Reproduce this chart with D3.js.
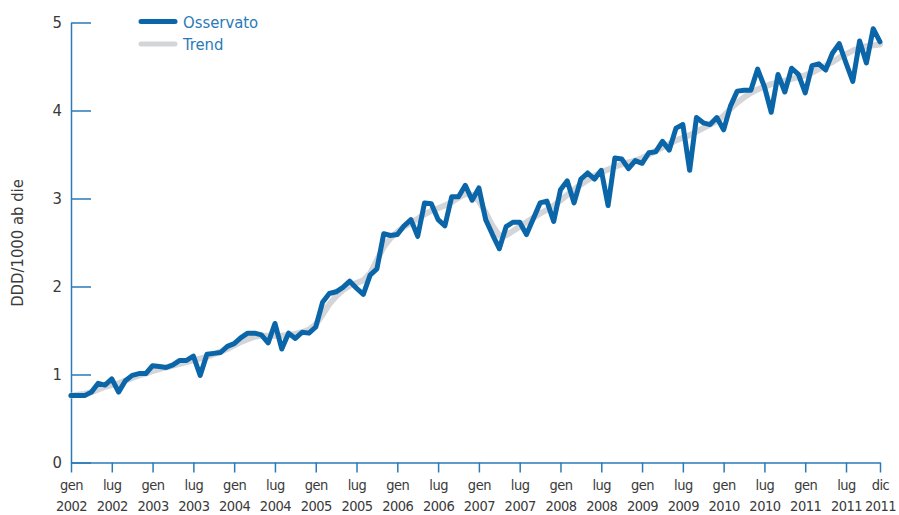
<!DOCTYPE html>
<html>
<head>
<meta charset="utf-8">
<script src="https://cdn.jsdelivr.net/npm/d3@7"></script>
<style>
    body { margin: 0; background: #fff; }
    svg text { font-family: "Liberation Sans Narrow", "DejaVu Sans Condensed", "Open Sans", sans-serif; }
</style>
</head>
<body>
<div id="viz_div"></div>
<script>
// DATA: monthly values, gen 2002 .. dic 2011 (DDD/1000 ab die)
// ---------------------------------------------------------------------------------------------------------------------------------
var observed = [
    0.76, 0.76, 0.76, 0.80, 0.90, 0.88, 0.95, 0.80, 0.93, 0.99, 1.01, 1.01,
    1.10, 1.09, 1.08, 1.11, 1.16, 1.16, 1.21, 0.99, 1.23, 1.24, 1.25, 1.32,
    1.35, 1.42, 1.47, 1.47, 1.45, 1.36, 1.58, 1.29, 1.47, 1.41, 1.48, 1.47,
    1.54, 1.82, 1.92, 1.94, 1.99, 2.06, 1.98, 1.91, 2.13, 2.20, 2.60, 2.58,
    2.59, 2.69, 2.76, 2.57, 2.95, 2.94, 2.76, 2.69, 3.02, 3.02, 3.15, 2.98,
    3.12, 2.76, 2.59, 2.43, 2.68, 2.73, 2.73, 2.59, 2.77, 2.95, 2.97, 2.74,
    3.10, 3.20, 2.95, 3.22, 3.29, 3.22, 3.32, 2.92, 3.46, 3.45, 3.34, 3.43,
    3.40, 3.52, 3.53, 3.65, 3.55, 3.80, 3.84, 3.32, 3.92, 3.86, 3.84, 3.92,
    3.78, 4.05, 4.22, 4.23, 4.23, 4.47, 4.27, 3.98, 4.41, 4.21, 4.48, 4.41,
    4.20, 4.51, 4.53, 4.46, 4.65, 4.76, 4.54, 4.33, 4.79, 4.54, 4.93, 4.78
];

var trend = [
    0.76, 0.77, 0.78, 0.80, 0.83, 0.86, 0.88, 0.90, 0.93, 0.96, 0.99, 1.01,
    1.04, 1.06, 1.08, 1.10, 1.12, 1.14, 1.16, 1.18, 1.20, 1.23, 1.26, 1.29,
    1.33, 1.37, 1.40, 1.43, 1.44, 1.44, 1.44, 1.44, 1.45, 1.46, 1.48, 1.51,
    1.57, 1.68, 1.80, 1.89, 1.96, 2.01, 2.04, 2.07, 2.15, 2.30, 2.45, 2.55,
    2.62, 2.68, 2.72, 2.77, 2.82, 2.86, 2.89, 2.92, 2.96, 3.01, 3.05, 3.04,
    2.97, 2.84, 2.69, 2.58, 2.58, 2.63, 2.68, 2.73, 2.78, 2.83, 2.87, 2.92,
    2.98, 3.04, 3.10, 3.16, 3.21, 3.26, 3.30, 3.33, 3.36, 3.39, 3.41, 3.43,
    3.46, 3.50, 3.54, 3.58, 3.62, 3.66, 3.69, 3.72, 3.76, 3.80, 3.84, 3.88,
    3.94, 4.02, 4.09, 4.15, 4.20, 4.24, 4.27, 4.30, 4.32, 4.34, 4.36, 4.38,
    4.40, 4.43, 4.47, 4.51, 4.55, 4.60, 4.64, 4.68, 4.71, 4.73, 4.74, 4.75
];

var tickMonths = [0, 6, 12, 18, 24, 30, 36, 42, 48, 54, 60, 66, 72, 78, 84, 90, 96, 102, 108, 114, 119];
var tickNames = ["gen", "lug", "gen", "lug", "gen", "lug", "gen", "lug", "gen", "lug", "gen",
    "lug", "gen", "lug", "gen", "lug", "gen", "lug", "gen", "lug", "dic"];
var tickYears = ["2002", "2002", "2003", "2003", "2004", "2004", "2005", "2005", "2006", "2006", "2007",
    "2007", "2008", "2008", "2009", "2009", "2010", "2010", "2011", "2011", "2011"];
var yTicks = [0, 1, 2, 3, 4, 5];

var legendKeys = ["Osservato", "Trend"];

// SCALERS AND COLOURS
// ---------------------------------------------------------------------------------------------------------------------------------
const width = 899, height = 515;
const margin = { top: 22.5, right: 19, bottom: 52.5, left: 71 };

const axisColor = "#2a7ab8";
const lineColor = "#0a66a8";
const trendColor = "#d3d5d8";
const textColor = "#3a3a3a";

const x = d3.scaleLinear([0, 119], [margin.left, width - margin.right]);
const y = d3.scaleLinear([0, 5], [height - margin.bottom, margin.top]);

const svg = d3.select("#viz_div")
    .append("svg")
    .attr("width", width)
    .attr("height", height);

// AXES
// ---------------------------------------------------------------------------------------------------------------------------------
const yAxis = svg.append("g")
    .attr("transform", `translate(${margin.left},0)`)
    .call(d3.axisLeft(y).tickValues(yTicks).tickSizeInner(-20).tickSizeOuter(0).tickPadding(30).tickFormat(d3.format("d")));

yAxis.select(".domain").attr("stroke", axisColor).attr("stroke-width", 1.5);
yAxis.selectAll(".tick line").attr("stroke", axisColor).attr("stroke-width", 1.5);
yAxis.selectAll(".tick text")
    .attr("x", -9)
    .attr("fill", textColor)
    .style("font-size", "16.5px");

const xAxis = svg.append("g")
    .attr("transform", `translate(0,${height - margin.bottom})`)
    .call(d3.axisBottom(x).tickValues(tickMonths).tickSizeInner(10).tickSizeOuter(0).tickFormat(""));

xAxis.select(".domain").attr("stroke", axisColor).attr("stroke-width", 1.5);
xAxis.selectAll(".tick line").attr("stroke", axisColor).attr("stroke-width", 1.5);

var xLabels = xAxis.selectAll(".tick")
    .append("text")
    .attr("fill", textColor)
    .attr("text-anchor", "middle")
    .style("font-size", "14.5px")
    .style("letter-spacing", "-0.5px");

xLabels.append("tspan")
    .attr("x", 0)
    .attr("y", 27)
    .text(function (d, i) { return tickNames[i]; });

xLabels.append("tspan")
    .attr("x", 0)
    .attr("y", 48.5)
    .text(function (d, i) { return tickYears[i]; });

// AXIS TITLE
// ---------------------------------------------------------------------------------------------------------------------------------
svg.append("text")
    .attr("transform", "translate(23,243) rotate(-90)")
    .attr("text-anchor", "middle")
    .attr("fill", textColor)
    .style("font-size", "16.5px")
    .text("DDD/1000 ab die");

// LINES
// ---------------------------------------------------------------------------------------------------------------------------------
var line = d3.line()
    .x(function (d, i) { return x(i); })
    .y(function (d) { return y(d); });

svg.append("path")
    .datum(trend)
    .attr("fill", "none")
    .attr("stroke", trendColor)
    .attr("stroke-width", 6)
    .attr("stroke-linejoin", "round")
    .attr("stroke-linecap", "round")
    .attr("d", line);

svg.append("path")
    .datum(observed)
    .attr("fill", "none")
    .attr("stroke", lineColor)
    .attr("stroke-width", 5)
    .attr("stroke-linejoin", "round")
    .attr("stroke-linecap", "round")
    .attr("d", line);

// LEGEND
// ---------------------------------------------------------------------------------------------------------------------------------
var legendColor = d3.scaleOrdinal().domain(legendKeys).range([lineColor, trendColor]);

svg.selectAll("legendLines")
    .data(legendKeys)
    .enter()
    .append("line")
    .attr("x1", 141)
    .attr("x2", 175)
    .attr("y1", function (d, i) { return 21.5 + i * 22.5; })
    .attr("y2", function (d, i) { return 21.5 + i * 22.5; })
    .attr("stroke", function (d) { return legendColor(d); })
    .attr("stroke-width", 5)
    .attr("stroke-linecap", "round");

svg.selectAll("legendLabels")
    .data(legendKeys)
    .enter()
    .append("text")
    .attr("x", 183)
    .attr("y", function (d, i) { return 27.5 + i * 22.5; })
    .attr("fill", axisColor)
    .style("font-size", "16.5px")
    .text(function (d) { return d; });
</script>
</body>
</html>
